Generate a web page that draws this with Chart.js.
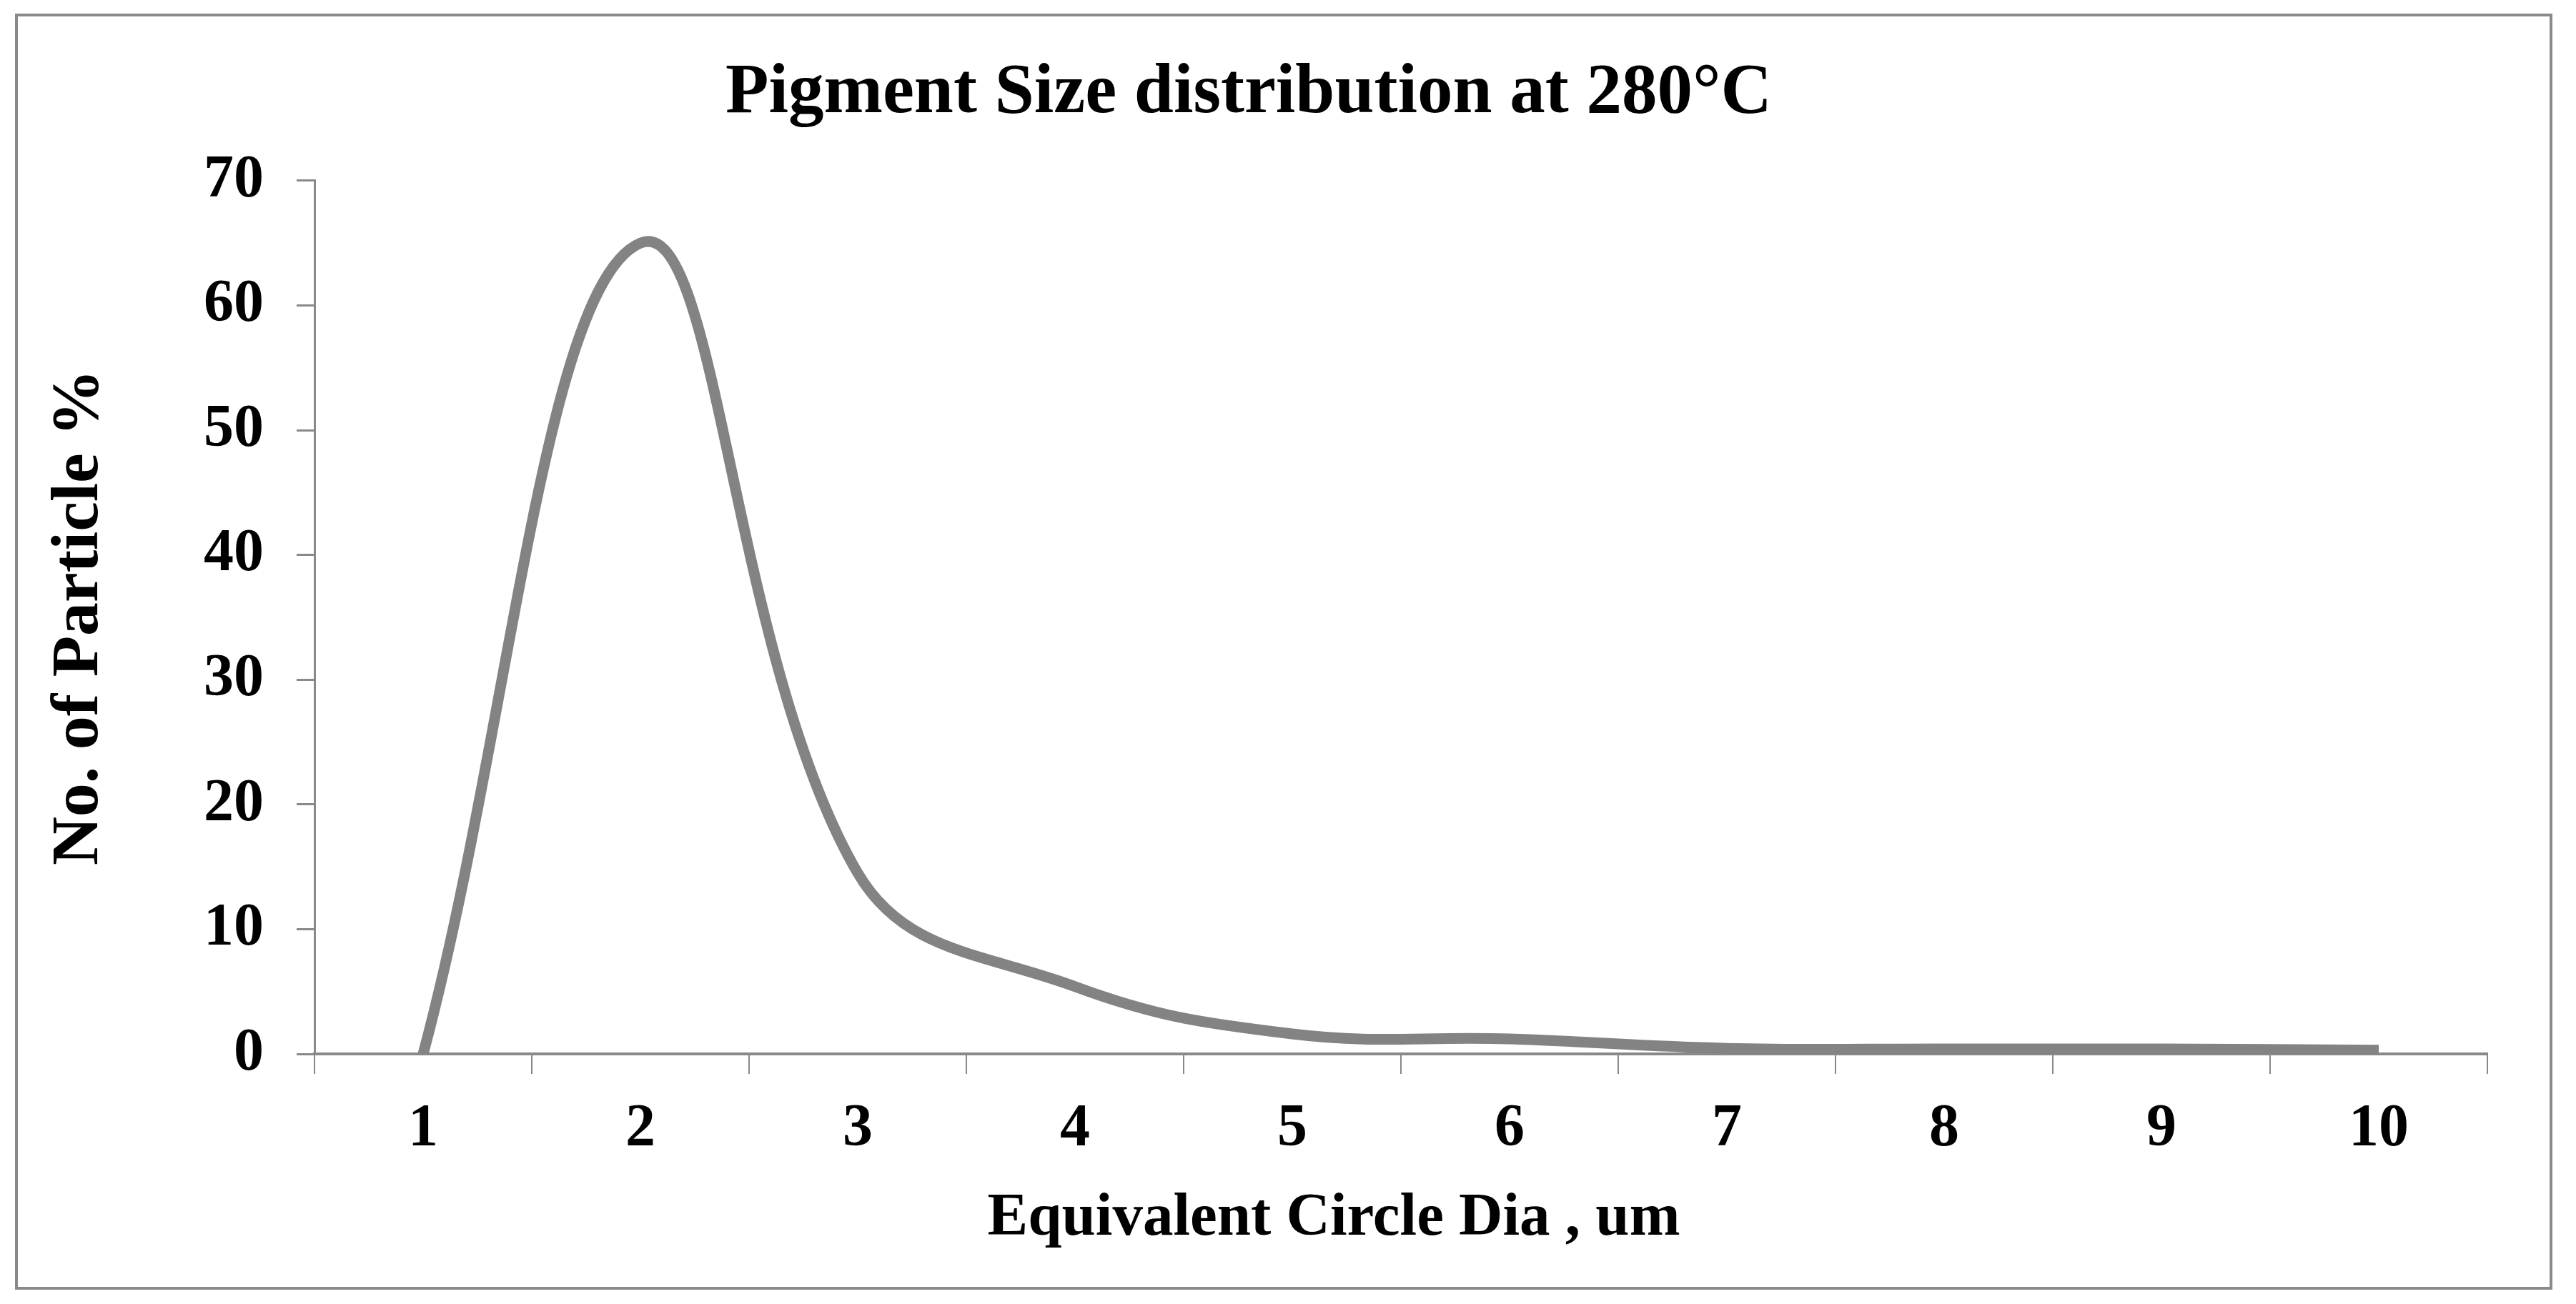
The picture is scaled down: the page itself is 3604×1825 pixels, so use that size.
<!DOCTYPE html>
<html>
<head>
<meta charset="utf-8">
<script src="https://cdn.jsdelivr.net/npm/chart.js@4/dist/chart.umd.min.js"></script>
<style>
  html, body { margin: 0; padding: 0; background: #ffffff; }
  #wrap { position: relative; width: 3604px; height: 1825px; background: #ffffff; }
  #frame { position: absolute; left: 21px; top: 19px; width: 3550px; height: 1786px;
           box-sizing: border-box; border: 4px solid #8a8a8a; }
  #c { position: absolute; left: 0; top: 0; }
</style>
</head>
<body>
<div id="wrap">
  <div id="frame"></div>
  <canvas id="c" width="3604" height="1825"></canvas>
</div>
<script>
// ---- data ----
const categories = ['1', '2', '3', '4', '5', '6', '7', '8', '9', '10'];
const particlePct = [0, 65, 14.5, 5.4, 1.6, 1.2, 0.45, 0.4, 0.4, 0.3];
const yTicks = [0, 10, 20, 30, 40, 50, 60, 70];

const chartTitle = 'Pigment Size distribution at 280°C';
const xTitle = 'Equivalent Circle Dia , um';
const yTitle = 'No. of Particle %';

const FONT = "'Times New Roman', 'Liberation Serif', serif";
const AXIS = '#898989';

const shiftPlugin = {
  id: 'shiftTitles',
  afterLayout(chart) {
    // main title is centred a bit left of the canvas centre
    if (chart.titleBlock) {
      chart.titleBlock.left = 0;
      chart.titleBlock.right = 3494;
    }
    const xs = chart.scales.x;
    if (xs && !xs._patchedTitle) {
      const orig = xs.drawTitle;
      xs.drawTitle = function () {
        const l = this.left, r = this.right;
        this.left = l - 188; this.right = r;
        orig.call(this);
        this.left = l; this.right = r;
      };
      xs._patchedTitle = true;
    }
  }
};

new Chart(document.getElementById('c'), {
  type: 'line',
  data: {
    labels: categories,
    datasets: [{
      data: particlePct,
      borderColor: '#838383',
      borderWidth: 15,
      pointRadius: 0,
      tension: 0.4,
      fill: false,
      borderCapStyle: 'butt',
      borderJoinStyle: 'round'
    }]
  },
  options: {
    responsive: false,
    animation: false,
    devicePixelRatio: 1,
    layout: { padding: { left: 0, right: 124, top: 0, bottom: 0 } },
    plugins: {
      legend: { display: false },
      tooltip: { enabled: false },
      title: {
        display: true,
        text: chartTitle,
        color: '#000000',
        font: { family: FONT, size: 99, weight: 'bold' },
        padding: { top: 72, bottom: 62 }
      }
    },
    scales: {
      x: {
        type: 'category',
        offset: true,
        afterFit(s) { s.height = 350; },
        grid: {
          offset: true,
          drawOnChartArea: false,
          drawTicks: true,
          tickLength: 28,
          color: AXIS,
          lineWidth: 2
        },
        border: { display: true, color: AXIS, width: 4 },
        ticks: {
          color: '#000000',
          padding: 28,
          maxRotation: 0,
          autoSkip: false,
          font: { family: FONT, size: 84, weight: 'bold' }
        },
        title: {
          display: true,
          text: xTitle,
          color: '#000000',
          font: { family: FONT, size: 85, weight: 'bold' },
          padding: { top: 0, bottom: 68 }
        }
      },
      y: {
        min: 0,
        max: 70,
        afterFit(s) { s.width = 440; },
        afterBuildTicks(s) { s.ticks = yTicks.map(v => ({ value: v })); },
        grid: {
          drawOnChartArea: false,
          drawTicks: true,
          tickLength: 25,
          color: AXIS,
          lineWidth: 3
        },
        border: { display: true, color: AXIS, width: 3 },
        ticks: {
          color: '#000000',
          padding: 46,
          font: { family: FONT, size: 84, weight: 'bold' }
        },
        title: {
          display: true,
          text: yTitle,
          color: '#000000',
          font: { family: FONT, size: 94, weight: 'bold' },
          padding: { top: 55, bottom: 0 }
        }
      }
    }
  },
  plugins: [shiftPlugin]
});
</script>
</body>
</html>
